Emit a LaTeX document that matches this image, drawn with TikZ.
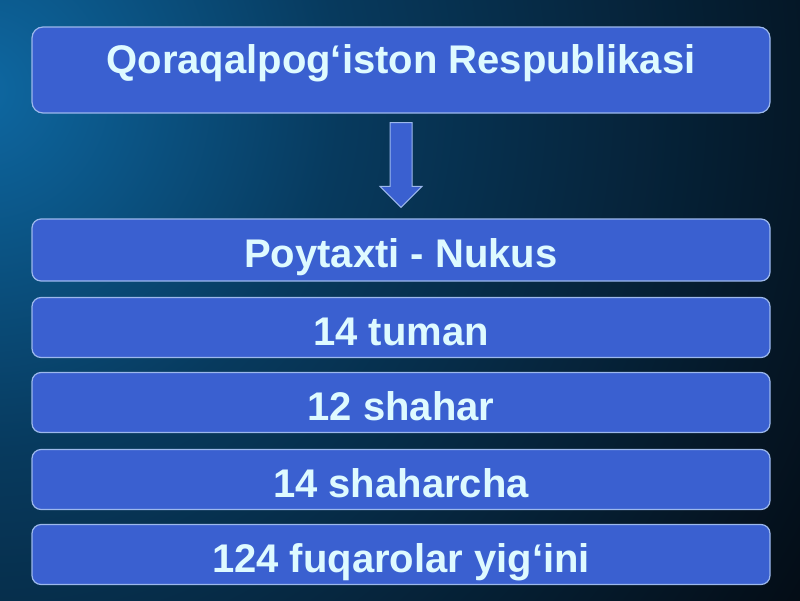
\documentclass[tikz,border=0pt]{standalone}
\usepackage{fontspec}
\setmainfont{Liberation Sans}
\usetikzlibrary{calc}

\definecolor{bgdark}{RGB}{4,10,18}
\definecolor{glowblue}{RGB}{14,104,162}
\definecolor{glowmid}{RGB}{7,58,94}
\definecolor{boxfill}{RGB}{58,96,208}
\definecolor{boxline}{RGB}{156,184,236}
\definecolor{boxtext}{RGB}{222,250,255}

\pgfdeclareradialshading{corner glow}{\pgfpoint{0bp}{0bp}}{%
  color(0bp)=(glowblue); color(9bp)=(glowmid); color(25bp)=(bgdark); color(50bp)=(bgdark)}

\tikzset{
  infobox/.style={draw=boxline, line width=1.2pt, fill=boxfill, rounded corners=9pt,
    minimum width=738pt, minimum height=60pt, inner sep=0pt,
    text height=40pt, text depth=4.4pt,
    text=boxtext, font=\bfseries\fontsize{40}{44}\selectfont},
  titlebox/.style={infobox, minimum height=86pt, rounded corners=11pt,
    text height=30pt, text depth=24pt}
}

\begin{document}
\begin{tikzpicture}[x=1pt, y=-1pt]

\useasboundingbox ( 0, 0 ) rectangle ( 800, 600 );

% Background
\fill [bgdark] ( -10, -10 ) rectangle ( 810, 610 );
\begin{scope}
  \clip ( -10, -10 ) rectangle ( 810, 610 );
  \shade [shading=corner glow] ( -20, 90 ) circle ( 1000 );
\end{scope}

% Boxes
\node [titlebox] (title) at ( 401, 70 ) {Qoraqalpog‘iston Respublikasi};
\node [infobox, minimum height=62pt] (capital) at ( 401, 250 ) {Poytaxti - Nukus};
\node [infobox] (districts) at ( 401, 327.5 ) {14 tuman};
\node [infobox] (cities) at ( 401, 402.5 ) {12 shahar};
\node [infobox] (towns) at ( 401, 479.5 ) {14 shaharcha};
\node [infobox] (assemblies) at ( 401, 554.5 ) {124 fuqarolar yig‘ini};

% Arrow
\coordinate (arrowtop) at ( $ (title.south) + (0, 9) $ );
\coordinate (arrowtip) at ( $ (capital.north) + (0, -11) $ );
\filldraw [fill=boxfill, draw=boxline, line width=1pt, line join=miter]
  ( $ (arrowtop) + (-11, 0) $ ) -- ( $ (arrowtop) + (11, 0) $ )
  -- ( $ (arrowtip) + (11, -21) $ ) -- ( $ (arrowtip) + (21, -21) $ )
  -- (arrowtip) -- ( $ (arrowtip) + (-21, -21) $ )
  -- ( $ (arrowtip) + (-11, -21) $ ) -- cycle;

\end{tikzpicture}
\end{document}
